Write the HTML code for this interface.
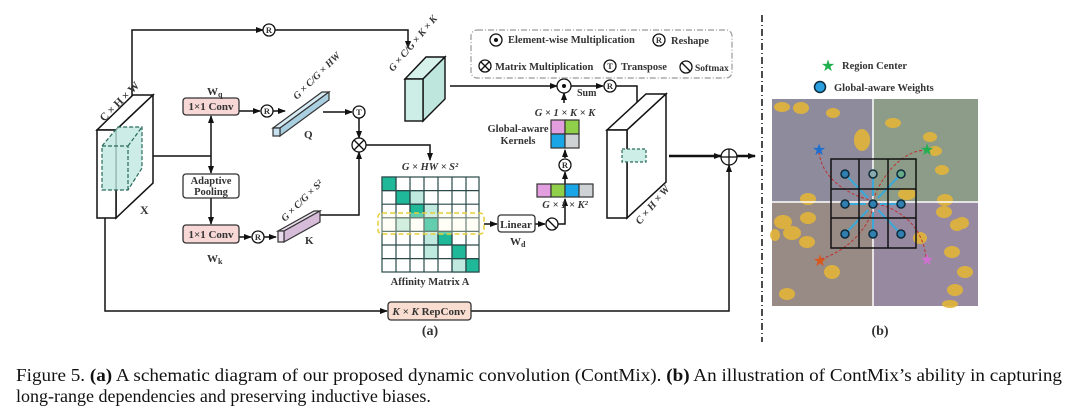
<!DOCTYPE html>
<html><head><meta charset="utf-8"><style>
html,body{margin:0;padding:0;background:#fff;}
svg{display:block;}
.t{font-family:"Liberation Serif",serif;font-weight:bold;fill:#333;}
</style></head><body>
<svg width="1080" height="413" viewBox="0 0 1080 413" xmlns="http://www.w3.org/2000/svg">
<defs>
<marker id="a" markerWidth="8" markerHeight="8" refX="7" refY="4" orient="auto" markerUnits="userSpaceOnUse"><path d="M0,1 L8,4 L0,7 z" fill="#111"/></marker>
</defs>
<g stroke="#111" stroke-width="1.5" fill="none">
<polyline points="132,96 132,30 263,30" marker-end="url(#a)"/>
<polyline points="275,30 408,30 408,48" marker-end="url(#a)"/>
<line x1="153" y1="156" x2="211" y2="156"/>
<line x1="211" y1="156" x2="211" y2="116" marker-end="url(#a)"/>
<line x1="211" y1="156" x2="211" y2="173" marker-end="url(#a)"/>
<line x1="211" y1="198" x2="211" y2="224" marker-end="url(#a)"/>
<line x1="239" y1="111" x2="260" y2="111" marker-end="url(#a)"/>
<line x1="273" y1="111" x2="285" y2="111" marker-end="url(#a)"/>
<line x1="239" y1="237" x2="251" y2="237" marker-end="url(#a)"/>
<line x1="264" y1="237" x2="276" y2="237" marker-end="url(#a)"/>
<line x1="323" y1="112" x2="352" y2="112" marker-end="url(#a)"/>
<line x1="359" y1="118" x2="359" y2="138" marker-end="url(#a)"/>
<polyline points="317,215 359,215 359,152" marker-end="url(#a)"/>
<polyline points="366,145 430,145 430,160" marker-end="url(#a)"/>
<polyline points="105,218 105,311 387,311" marker-end="url(#a)"/>
<polyline points="471,311 729,311 729,165" marker-end="url(#a)"/>
<line x1="450" y1="86" x2="557" y2="86" marker-end="url(#a)"/>
<line x1="570" y1="86" x2="603" y2="86" marker-end="url(#a)"/>
<polyline points="616,86 637,86 637,148" marker-end="url(#a)"/>
<line x1="564" y1="103" x2="564" y2="93" marker-end="url(#a)"/>
<line x1="565" y1="158" x2="565" y2="150" marker-end="url(#a)"/>
<line x1="565" y1="184" x2="565" y2="172" marker-end="url(#a)"/>
<line x1="484" y1="224" x2="497" y2="224" marker-end="url(#a)"/>
<line x1="535" y1="224" x2="545" y2="224" marker-end="url(#a)"/>
<polyline points="558,224 565,224 565,199" marker-end="url(#a)"/>
<line x1="669" y1="156" x2="721" y2="156" stroke-width="2.5" marker-end="url(#a)"/>
<line x1="736" y1="156" x2="755" y2="156" stroke-width="2.5" marker-end="url(#a)"/>
</g>
<g stroke="#111" stroke-width="1.5" fill="#fff">
<polygon points="97,130 133,95 153,95 116,130"/>
<polygon points="116,130 153,95 153,183 116,218"/>
<rect x="97" y="130" width="19" height="88"/>
</g>
<g stroke="#2a6a5a" stroke-width="1.2" stroke-dasharray="4,2" fill="#bfe9e1" fill-opacity="0.8">
<polygon points="102,146 118,127 142,127 142,168 128,190 102,190"/>
<polyline points="102,146 128,146 128,190" fill="none"/>
<line x1="128" y1="146" x2="142" y2="127"/>
</g>
<text class="t" font-size="11" transform="translate(104,122) rotate(-45)">C × H × W</text>
<text class="t" font-size="12" x="140" y="214">X</text>
<g stroke="#333" stroke-width="1.3">
<rect x="183" y="98" width="56" height="17" rx="3" fill="#f7d8d6"/>
<rect x="183" y="174" width="56" height="24" rx="3" fill="#fff"/>
<rect x="183" y="225" width="56" height="18" rx="3" fill="#f7d8d6"/>
<rect x="388" y="302" width="83" height="18" rx="3" fill="#f9ddd0"/>
<rect x="498" y="215" width="37" height="17" rx="3" fill="#fff"/>
</g>
<text class="t" font-size="11" x="211" y="110" text-anchor="middle">1×1 Conv</text>
<text class="t" font-size="10.5" x="211" y="184" text-anchor="middle">Adaptive</text>
<text class="t" font-size="10.5" x="211" y="195" text-anchor="middle">Pooling</text>
<text class="t" font-size="11" x="211" y="238" text-anchor="middle">1×1 Conv</text>
<text class="t" font-size="11" x="207" y="95">W<tspan font-size="8" dy="2">q</tspan></text>
<text class="t" font-size="11" x="207" y="262">W<tspan font-size="8" dy="2">k</tspan></text>
<text class="t" font-size="11" x="429" y="315" text-anchor="middle"><tspan font-style="italic">K × K</tspan> RepConv</text>
<text class="t" font-size="11" x="516" y="228" text-anchor="middle">Linear</text>
<text class="t" font-size="11" x="510" y="245">W<tspan font-size="8" dy="2">d</tspan></text>
<g stroke="#333" stroke-width="1.2">
<polygon points="273,128 322,92 329,92 280,128" fill="#d8ecf5"/>
<polygon points="280,128 329,92 329,100 280,136" fill="#a9cfe0"/>
<rect x="273" y="128" width="7" height="8" fill="#c5e0ee"/>
<polygon points="278,231 314,211 320,211 284,231" fill="#eadcec"/>
<polygon points="284,231 320,211 320,222 284,242" fill="#d6bcd9"/>
<rect x="278" y="231" width="6" height="11" fill="#eadcec"/>
</g>
<text class="t" font-size="11" x="304" y="138">Q</text>
<text class="t" font-size="11" x="305" y="244">K</text>
<text class="t" font-size="10" font-style="italic" transform="translate(297,100) rotate(-45)">G × C/G × HW</text>
<text class="t" font-size="10" font-style="italic" transform="translate(285,222) rotate(-45)">G × C/G × S²</text>
<g stroke="#111" stroke-width="1.3" fill="#fff">
<circle cx="269" cy="30" r="6"/><circle cx="267" cy="111" r="6"/><circle cx="258" cy="237" r="6"/>
<circle cx="359" cy="112" r="6"/><circle cx="359" cy="145" r="7"/>
<circle cx="564" cy="86" r="7"/><circle cx="610" cy="86" r="6"/><circle cx="565" cy="165" r="6"/>
<circle cx="552" cy="224" r="6"/><circle cx="729" cy="157" r="8"/>
</g>
<g stroke="#111" stroke-width="1.3">
<line x1="354" y1="140" x2="364" y2="150"/><line x1="364" y1="140" x2="354" y2="150"/>
<line x1="548" y1="220" x2="556" y2="228"/>
<line x1="721" y1="157" x2="737" y2="157"/><line x1="729" y1="149" x2="729" y2="165"/>
</g>
<circle cx="564" cy="86" r="2" fill="#111"/>
<g class="t" font-size="8.5" text-anchor="middle">
<text x="269" y="33">R</text><text x="267" y="114">R</text><text x="258" y="240">R</text>
<text x="359" y="115">T</text><text x="610" y="89">R</text><text x="565" y="168">R</text>
</g>
<g stroke="#111" stroke-width="1.4">
<polygon points="405,79 426,57 445,57 423,79" fill="#d6f0ea"/>
<polygon points="423,79 445,57 445,99 423,121" fill="#bfe6dc"/>
<rect x="405" y="79" width="18" height="42" fill="#cdeee6"/>
</g>
<text class="t" font-size="10" font-style="italic" transform="translate(393,72) rotate(-50)">G × C/G × K × K</text>
<rect x="471" y="30" width="261" height="48" rx="6" fill="none" stroke="#999" stroke-width="1.2" stroke-dasharray="6,2,1,2"/>
<g stroke="#111" stroke-width="1.3" fill="#fff">
<circle cx="496" cy="40" r="6"/><circle cx="659" cy="40" r="6"/>
<circle cx="485" cy="66" r="6"/><circle cx="610" cy="66" r="6"/><circle cx="686" cy="67" r="6"/>
</g>
<circle cx="496" cy="40" r="2" fill="#111"/>
<g stroke="#111" stroke-width="1.3"><line x1="481" y1="62" x2="489" y2="70"/><line x1="489" y1="62" x2="481" y2="70"/><line x1="682" y1="63" x2="690" y2="71"/></g>
<g class="t" font-size="8.5" text-anchor="middle"><text x="659" y="43">R</text><text x="610" y="69">T</text></g>
<g class="t" font-size="10.5">
<text x="508" y="43">Element-wise Multiplication</text>
<text x="671" y="44">Reshape</text>
<text x="495" y="70">Matrix Multiplication</text>
<text x="621" y="70">Transpose</text>
<text x="695" y="71" font-size="9.5">Softmax</text>
</g>
<g stroke="#2a4a4a" stroke-width="1.2">
<rect x="382" y="177" width="97" height="95" fill="#fff"/>
<rect x="382" y="177" width="14" height="13.6" fill="#1fb99a"/>
<rect x="396" y="190.6" width="14" height="13.6" fill="#1fb99a"/>
<rect x="410" y="190.6" width="14" height="13.6" fill="#bfe8df"/>
<rect x="410" y="204.2" width="14" height="13.6" fill="#1fb99a"/>
<rect x="424" y="204.2" width="14" height="13.6" fill="#bfe8df"/>
<rect x="396" y="217.8" width="14" height="13.6" fill="#bfe8df"/>
<rect x="424" y="217.8" width="14" height="13.6" fill="#1fb99a"/>
<rect x="438" y="231.4" width="14" height="13.6" fill="#1fb99a"/>
<rect x="424" y="231.4" width="14" height="13.6" fill="#bfe8df"/>
<rect x="424" y="245" width="14" height="13.6" fill="#bfe8df"/>
<rect x="452" y="245" width="14" height="13.6" fill="#1fb99a"/>
<rect x="452" y="258.6" width="14" height="13.4" fill="#bfe8df"/>
<rect x="466" y="258.6" width="13" height="13.4" fill="#1fb99a"/>
<path d="M396,177V272M410,177V272M424,177V272M438,177V272M452,177V272M466,177V272M382,190.6H479M382,204.2H479M382,217.8H479M382,231.4H479M382,245H479M382,258.6H479" fill="none"/>
</g>
<rect x="378" y="213" width="106" height="21" rx="4" fill="#fffbe0" fill-opacity="0.3" stroke="#e5cf3a" stroke-width="1.5" stroke-dasharray="5,3"/>
<text class="t" font-size="10.5" font-style="italic" x="430" y="170" text-anchor="middle">G × HW × S²</text>
<text class="t" font-size="10.5" x="430" y="285" text-anchor="middle">Affinity Matrix A</text>
<g stroke="#333" stroke-width="1.2">
<rect x="551" y="120" width="14" height="14" fill="#e39ee0"/><rect x="565" y="120" width="14" height="14" fill="#8fcf4a"/>
<rect x="551" y="134" width="14" height="14" fill="#1aa6e6"/><rect x="565" y="134" width="14" height="14" fill="#cfd2d4"/>
<rect x="537" y="184" width="14" height="13" fill="#e39ee0"/><rect x="551" y="184" width="14" height="13" fill="#8fcf4a"/>
<rect x="565" y="184" width="14" height="13" fill="#1aa6e6"/><rect x="579" y="184" width="14" height="13" fill="#cfd2d4"/>
</g>
<text class="t" font-size="10.5" font-style="italic" x="565" y="116" text-anchor="middle">G × 1 × K × K</text>
<text class="t" font-size="10.5" font-style="italic" x="565" y="208" text-anchor="middle">G × 1 × K²</text>
<text class="t" font-size="10.5" x="518" y="132" text-anchor="middle">Global-aware</text>
<text class="t" font-size="10.5" x="518" y="144" text-anchor="middle">Kernels</text>
<text class="t" font-size="10" x="577" y="96">Sum</text>
<g stroke="#111" stroke-width="1.5" fill="#fff">
<polygon points="607,130 646,94 666,94 627,130"/>
<polygon points="627,130 666,94 666,182 627,218"/>
<rect x="607" y="130" width="20" height="88"/>
</g>
<rect x="622" y="149" width="24" height="13" fill="#cdeee6" stroke="#2a6a5a" stroke-dasharray="3,2" stroke-width="1.2"/>
<text class="t" font-size="10.5" font-style="italic" transform="translate(640,225) rotate(-50)">C × H × W</text>
<text class="t" font-size="14" x="430" y="335" text-anchor="middle">(a)</text>
<text class="t" font-size="14" x="880" y="335" text-anchor="middle">(b)</text>
<line x1="762" y1="15" x2="762" y2="342" stroke="#111" stroke-width="1.5" stroke-dasharray="7,3,1,3"/>
<g>
<rect x="772" y="99" width="101" height="103" fill="#8e8c9c"/>
<rect x="873" y="99" width="105" height="103" fill="#8c9c88"/>
<rect x="772" y="202" width="101" height="104" fill="#988a84"/>
<rect x="873" y="202" width="105" height="104" fill="#978aa0"/>
<g fill="#e3b53a" opacity="0.9">
<ellipse cx="782" cy="107" rx="8" ry="5"/><ellipse cx="801" cy="108" rx="8" ry="6"/><ellipse cx="833" cy="113" rx="7" ry="5"/>
<ellipse cx="862" cy="140" rx="8" ry="11"/><ellipse cx="893" cy="123" rx="8" ry="5"/><ellipse cx="930" cy="137" rx="7" ry="5"/>
<ellipse cx="935" cy="151" rx="7" ry="5"/><ellipse cx="942" cy="170" rx="7" ry="5"/><ellipse cx="907" cy="194" rx="9" ry="6"/>
<ellipse cx="945" cy="200" rx="8" ry="6"/><ellipse cx="808" cy="199" rx="8" ry="6"/><ellipse cx="783" cy="222" rx="9" ry="7"/>
<ellipse cx="808" cy="218" rx="8" ry="6"/><ellipse cx="792" cy="233" rx="9" ry="7"/><ellipse cx="807" cy="242" rx="8" ry="6"/>
<ellipse cx="775" cy="235" rx="5" ry="6"/><ellipse cx="832" cy="272" rx="8" ry="7"/><ellipse cx="787" cy="294" rx="8" ry="6"/>
<ellipse cx="944" cy="212" rx="8" ry="6"/><ellipse cx="957" cy="225" rx="7" ry="6"/><ellipse cx="962" cy="223" rx="7" ry="6"/>
<ellipse cx="952" cy="252" rx="8" ry="6"/><ellipse cx="965" cy="272" rx="8" ry="6"/><ellipse cx="955" cy="290" rx="8" ry="6"/>
<ellipse cx="950" cy="304" rx="8" ry="4"/><ellipse cx="920" cy="238" rx="7" ry="6"/>
</g>
<line x1="873" y1="99" x2="873" y2="306" stroke="#fff" stroke-width="1.5"/>
<line x1="772" y1="202" x2="978" y2="202" stroke="#fff" stroke-width="1.5"/>
<g fill="none" stroke="#c03030" stroke-width="1" stroke-dasharray="3,2">
<path d="M819,152 C822,180 850,195 870,200"/>
<path d="M927,150 C900,150 880,180 874,198"/>
<path d="M821,259 C850,250 870,225 873,207"/>
<path d="M926,257 C922,225 900,210 878,204"/>
</g>
<g stroke="#3aa8d8" stroke-width="2">
<line x1="845" y1="174" x2="868" y2="198"/><line x1="873" y1="174" x2="873" y2="196"/><line x1="901" y1="174" x2="878" y2="198"/>
<line x1="845" y1="204" x2="866" y2="204"/><line x1="901" y1="204" x2="880" y2="204"/>
<line x1="845" y1="234" x2="868" y2="210"/><line x1="873" y1="234" x2="873" y2="212"/><line x1="901" y1="234" x2="878" y2="210"/>
</g>
<g stroke="#111" stroke-width="1.5" fill="none">
<rect x="831" y="159" width="85" height="89"/>
<path d="M859,159V248M888,159V248M831,189H916M831,218H916"/>
</g>
<g fill="#2f7fb0" stroke="#0d2a3a" stroke-width="1.5">
<circle cx="845" cy="174" r="4"/><circle cx="873" cy="174" r="4" fill="#8aa"/><circle cx="901" cy="174" r="4" fill="#6a8"/>
<circle cx="845" cy="204" r="4"/><circle cx="873" cy="204" r="4"/><circle cx="901" cy="204" r="4"/>
<circle cx="845" cy="234" r="4"/><circle cx="873" cy="234" r="4"/><circle cx="901" cy="234" r="4"/>
</g>
<g font-size="16" text-anchor="middle" font-family="DejaVu Sans,sans-serif">
<text x="819" y="155" fill="#1d6fd0">★</text>
<text x="927" y="155" fill="#20b050">★</text>
<text x="820" y="266" fill="#d8581c">★</text>
<text x="927" y="265" fill="#d070d0">★</text>
<text x="828" y="71" fill="#20b050">★</text>
</g>
<circle cx="820" cy="87" r="5.5" fill="#2aa0e0" stroke="#0d2a3a" stroke-width="1.5"/>
<text class="t" font-size="10.5" x="842" y="69">Region Center</text>
<text class="t" font-size="10.5" x="834" y="91">Global-aware Weights</text>
</g>
<g font-family="Liberation Serif,serif" font-size="18" fill="#111">
<text x="16" y="381" textLength="1046" lengthAdjust="spacingAndGlyphs">Figure 5. <tspan font-weight="bold">(a)</tspan> A schematic diagram of our proposed dynamic convolution (ContMix). <tspan font-weight="bold">(b)</tspan> An illustration of ContMix’s ability in capturing</text>
<text x="16" y="402">long-range dependencies and preserving inductive biases.</text>
</g>
</svg>
</body></html>
